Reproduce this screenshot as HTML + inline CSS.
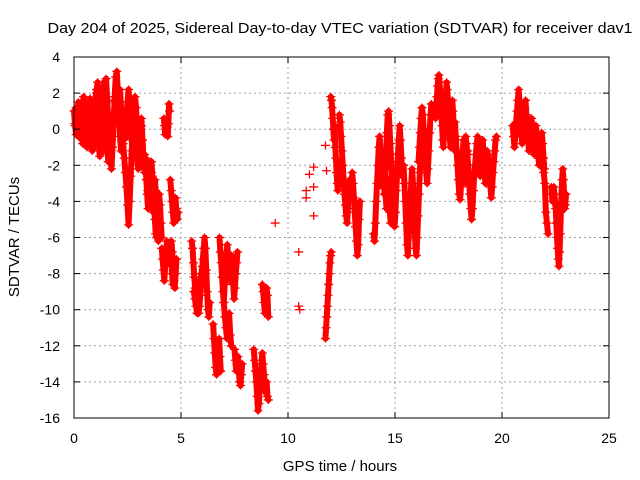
<!DOCTYPE html>
<html><head><meta charset="utf-8"><style>
body{margin:0;background:#fff;}
svg{display:block;font-family:"Liberation Sans",sans-serif;}
</style></head><body>
<svg id="chart" width="640" height="480" viewBox="0 0 640 480" xmlns="http://www.w3.org/2000/svg">
<rect width="640" height="480" fill="#fff"/>
<text x="340" y="33" font-size="15" text-anchor="middle" textLength="585" lengthAdjust="spacingAndGlyphs">Day 204 of 2025, Sidereal Day-to-day VTEC variation (SDTVAR) for receiver dav1</text>
<text x="340" y="471" font-size="15" text-anchor="middle">GPS time / hours</text>
<text transform="translate(19,237) rotate(-90)" font-size="15" text-anchor="middle">SDTVAR / TECUs</text>
<g id="grid"></g>
<g id="marks"></g>
<rect x="74" y="57" width="535" height="361" fill="none" stroke="#000" stroke-width="1"/>
<g id="ticks"></g>
</svg>
<script>
const xTicks=[0,5,10,15,20,25];
const yTicks=[4,2,0,-2,-4,-6,-8,-10,-12,-14,-16];
const passStart=[0.0,0.05,1.5,2.1,2.4,3.1,3.3,3.5,4.1,4.2,4.5,4.55,5.5,5.6,6.5,6.8,7.0,7.5,8.4,8.8,11.75,12.0,12.4,13.0,14.0,14.5,15.4,16.1,16.9,17.8,18.3,19.3,20.5,21.9,22.3];
const passStep=[0.05,0.05,0.05,0.05,0.05,0.05,0.04,0.04,0.04,0.03,0.04,0.04,0.04,0.05,0.04,0.04,0.05,0.04,0.04,0.04,0.03,0.03,0.04,0.04,0.04,0.04,0.04,0.04,0.03,0.04,0.04,0.04,0.04,0.05,0.03];
const passValues=[
[1.0,0.2,-0.3,0.8,1.5,0.5,-0.5,0.3,1.2,1.8,0.9,-0.2,-1.0,0.1,1.0,0.4,-0.6,-1.2,-0.4,0.7,1.6,2.2,1.0,-0.3,-1.5,-0.8,0.5,1.9,2.6,1.4,0.2,-1.0,-1.8,-0.6],
[0.3,1.2,0.6,-0.4,0.0,1.1,0.2,-0.8,-0.3,0.6,1.4,0.5,-0.4,0.8,1.7,0.9,-0.2,-1.1,0.3,1.3,2.0,2.6,1.8,0.4,-0.7,-1.3,-0.2,1.0,2.3,2.8,1.6,0.3,-0.9],
[0.5,1.5,0.6,-0.5,-1.5,-2.2,-1.0,0.4,1.8,2.9,3.2,2.0,0.8,-0.4,-1.2],
[1.6,2.2,1.2,0.2,-0.8,-1.6,-2.4,-3.2,-4.2,-5.3,-4.0,-2.6,-1.2,0.0,1.0,1.8,1.2,0.0,-1.2,-2.0,-1.0,0.2],
[-0.5,0.5,1.5,2.2,1.4,0.2,-0.6,-1.4,-0.8,0.2,-0.4,-1.6,-2.2,-1.5,-0.3,0.6,-0.6,-1.8],
[-0.5,-1.2,-0.6,-1.8,-2.4,-1.6,-2.8,-3.4],
[-1.4,-2.0,-2.8,-3.6,-4.4,-3.8,-3.0,-2.2,-1.8,-2.6,-3.4,-4.2,-5.0,-5.8,-6.0,-5.2,-4.4,-3.6,-4.2,-5.2,-6.0],
[-2.6,-3.2,-1.8,-2.4,-3.6,-4.6,-3.8,-2.8,-3.4,-4.4,-5.6,-6.2,-5.6],
[-6.6,-7.2,-7.8,-8.4,-7.6,-6.8,-6.2,-6.8,-7.4,-7.0,-6.4,-7.2,-8.0,-8.6,-8.0],
[0.6,0.2,-0.3,0.0,0.4,0.1,-0.4,0.3,1.4,1.0],
[-2.8,-3.4,-4.0,-4.6,-5.2,-4.6,-3.8,-4.4,-5.0,-4.6],
[-6.2,-6.8,-7.6,-8.4,-8.8,-8.0,-7.2],
[-6.2,-6.6,-7.4,-8.2,-8.8,-9.4,-9.0,-9.6,-10.2,-9.8,-9.2,-8.6,-8.0,-7.2,-6.6,-6.0,-6.6,-7.8,-9.0,-10.0,-10.4,-9.6],
[-9.0,-9.4,-9.8,-10.2,-9.6,-9.2,-8.4,-8.0,-7.6],
[-10.8,-11.6,-12.4,-13.2,-13.6,-13.0,-12.2,-11.6,-12.6,-13.4],
[-6.0,-6.8,-7.4,-8.2,-9.0,-9.6,-8.6,-7.6,-7.0,-6.4,-7.0,-7.8,-8.4,-7.6,-7.0,-7.6,-8.6,-9.4,-8.8,-8.0,-7.4,-6.8],
[-9.6,-10.4,-11.0,-11.6,-10.8,-10.2,-11.4,-12.0],
[-12.2,-12.8,-13.4,-13.0,-12.6,-13.2,-14.0,-14.2,-13.6,-13.0],
[-12.2,-12.8,-13.4,-14.0,-14.8,-15.6,-15.2,-14.4,-13.6,-13.0,-12.4,-13.0,-13.6,-14.2,-14.6,-14.0,-14.8,-15.0],
[-8.6,-9.0,-9.6,-10.2,-9.4,-8.8,-9.2,-10.4],
[-11.6,-11.0,-10.4,-9.8,-9.2,-8.6,-8.0,-7.4,-7.0,-6.8],
[1.8,1.6,1.2,0.6,0.0,-0.6,0.2,-1.0,-1.6,-2.4,-3.0,-3.4,-2.6,-1.8],
[0.8,0.4,-0.4,-1.2,-2.0,-2.8,-3.6,-4.2,-4.8,-5.2,-4.4,-3.6,-2.8,-3.4],
[-2.4,-3.0,-3.8,-4.6,-5.4,-6.2,-7.0,-6.4,-5.0,-4.0],
[-5.8,-6.2,-5.2,-4.0,-3.0,-2.0,-1.0,-0.4,-1.2,-2.2,-3.2,-2.6,-1.6,-2.6,-3.6,-4.4,-3.8,-2.8,-3.6,-4.6,-5.2,-4.4],
[-3.6,-2.6,-1.4,-0.2,0.8,1.0,0.2,-0.8,-1.8,-2.8,-3.8,-4.6,-5.4,-4.6,-3.4,-2.4,-1.4,-0.6,0.2,-0.6,-1.6,-2.6],
[-2.0,-3.0,-4.0,-5.2,-6.4,-7.0,-6.0,-5.0,-4.0,-3.0,-2.2,-3.0,-4.2,-5.4,-6.6,-7.0,-6.0,-4.8,-3.6,-2.4,-1.4],
[-1.8,-1.0,-0.2,0.6,1.2,0.8,0.0,-0.8,-1.6,-2.4,-3.0,-2.2,-1.2,-0.2,0.8,1.4,0.8],
[0.6,1.2,1.8,2.4,2.8,3.0,2.6,2.0,1.4,0.8,0.2,-0.6,-1.0,-0.2,0.6,1.4,2.0,2.6,2.2,1.6,1.0,0.4,-0.4,-1.0,-0.2,0.8,1.6,1.0,0.2,-0.6,-1.2,-0.6],
[0.4,-0.4,-1.2,-2.0,-2.8,-3.6,-3.9,-3.2,-2.2,-1.4,-0.6,-1.2,-2.0,-3.0,-2.2,-1.2],
[-0.4,-0.8,-1.4,-2.0,-2.8,-3.6,-4.4,-5.0,-4.4,-3.4,-2.6,-2.0,-1.4,-0.8,-0.4,-1.0,-1.8,-2.6,-2.0,-1.2,-0.6,-1.4,-2.2,-3.0],
[-1.2,-1.4,-2.0,-2.6,-3.2,-3.8,-3.2,-2.4,-1.8,-1.2,-0.6,-0.4],
[0.2,-0.4,-1.0,-0.4,0.4,1.0,1.6,2.2,1.4,0.6,-0.2,-0.8,-0.2,0.6,1.2,1.6,0.8,0.0,-0.6,-1.2,-0.4,0.2,0.6,0.0,-0.8,-1.4,-0.6,0.2,-0.4,-1.2,-1.6,-2.0,-1.4,-0.6,-0.2,-0.8,-1.6,-2.2],
[-1.9,-2.4,-3.0,-4.6,-5.2,-5.8],
[-3.2,-3.6,-4.0,-3.6,-3.2,-3.6,-4.0,-4.4,-5.2,-6.0,-6.6,-7.2,-7.6,-6.8,-5.8,-4.6,-3.6,-2.8,-2.2,-2.8,-3.6,-4.4,-4.2,-3.6]
];
const isoT=[9.4,10.5,10.5,10.55,10.85,10.85,11.0,11.2,11.2,11.2,11.75,11.8];
const isoV=[-5.2,-6.8,-9.8,-10.0,-3.4,-3.8,-2.5,-4.8,-3.2,-2.1,-0.9,-2.3];

const NS="http://www.w3.org/2000/svg";
const X0=74,X1=609,Y0=418,Y1=57;
function xs(t){return X0+(t-0)/(25-0)*(X1-X0);}
function ys(v){return Y0-(v-(-16))/(4-(-16))*(Y0-Y1);}
function mk(tag,attrs,parent){const e=document.createElementNS(NS,tag);for(const k in attrs)e.setAttribute(k,attrs[k]);parent.appendChild(e);return e;}
const grid=document.getElementById('grid'),ticks=document.getElementById('ticks'),marks=document.getElementById('marks');
xTicks.forEach(t=>{
  const x=xs(t);
  if(t>0&&t<25){const g=mk('line',{x1:x,x2:x,y1:Y1,y2:Y0,stroke:'#a0a0a0','stroke-dasharray':'2,3'},grid);
  
  }
  mk('line',{x1:x,x2:x,y1:Y0,y2:Y0-6,stroke:'#000'},ticks);
  mk('line',{x1:x,x2:x,y1:Y1,y2:Y1+6,stroke:'#000'},ticks);
  const l=mk('text',{x:x,y:443,'font-size':14,'text-anchor':'middle'},ticks);l.textContent=t;
  
  
});
yTicks.forEach(v=>{
  const y=ys(v);
  if(v<4&&v>-16){const g=mk('line',{x1:X0,x2:X1,y1:y,y2:y,stroke:'#a0a0a0','stroke-dasharray':'2,3'},grid);
  
  }
  mk('line',{x1:X0,x2:X0+6,y1:y,y2:y,stroke:'#000'},ticks);
  mk('line',{x1:X1,x2:X1-6,y1:y,y2:y,stroke:'#000'},ticks);
  const l=mk('text',{x:60,y:y+5,'font-size':14,'text-anchor':'end'},ticks);l.textContent=v;
  
  
});
function plus(t,v){
  const x=xs(t),y=ys(v);
  const p=mk('path',{d:`M${x-4.5},${y}H${x+4.5}M${x},${y-4}V${y+4}`,stroke:'#ff0000','stroke-width':1.3,fill:'none'},marks);
  
  
}
passValues.forEach((vals,i)=>{
  const pts=vals.map((v,j)=>xs(passStart[i]+j*passStep[i])+','+ys(v)).join(' ');
  const pl=mk('polyline',{points:pts,fill:'none',stroke:'#ff0000','stroke-width':6,'stroke-linejoin':'round','stroke-linecap':'round'},marks);
  
  
  vals.forEach((v,j)=>plus(passStart[i]+j*passStep[i],v));
});
isoT.forEach((t,i)=>plus(t,isoV[i]));
</script>
</body></html>
